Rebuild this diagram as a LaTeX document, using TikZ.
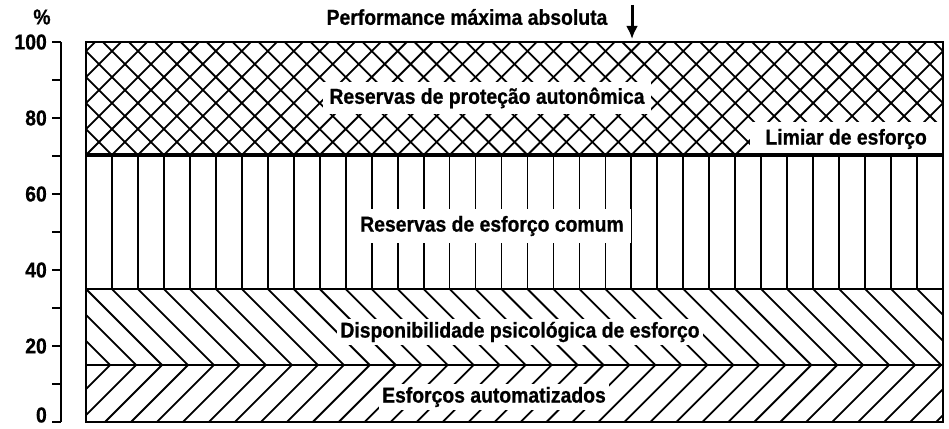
\documentclass[tikz,border=0pt]{standalone}
\usepackage{fontspec}
\setmainfont{Liberation Sans}[BoldFeatures={FakeStretch=0.9, FakeBold=0.8}]
\usetikzlibrary{arrows.meta, positioning}

\tikzset{
  hatch/.style={line width=1.8pt},
  band/.style={font=\bfseries\fontsize{21.5}{24}\selectfont, fill=white, inner sep=3pt},
  ylbl/.style={font=\bfseries\fontsize{21.5}{24}\selectfont, anchor=east, inner sep=0pt},
}

\begin{document}
\begin{tikzpicture}[x=1pt, y=-1pt]
\useasboundingbox (0,0) rectangle (949,428);
\pgfmathsetmacro{\colw}{857/33}

% crosshatch, 70--100
\begin{scope}
\clip (86,42) rectangle (943,155);
\foreach \k in {-5,...,38} {
  \draw[hatch] ({86+\k*\colw},155) -- ++(113,-113);
  \draw[hatch] ({86+\k*\colw},155) -- ++(-113,-113);
}
\end{scope}

% vertical lines, 35--70
\foreach \k in {1,...,32}
  \draw[hatch] ({86+\k*\colw},155) -- ({86+\k*\colw},289);

% chevrons, 0--35
\begin{scope}
\clip (86,289) rectangle (943,365);
\foreach \k in {-4,...,33}
  \draw[hatch] ({86+\k*\colw},289) -- ++(76,76);
\end{scope}
\begin{scope}
\clip (86,365) rectangle (943,422);
\foreach \k in {-4,...,33}
  \draw[hatch] ({86+\k*\colw+76},365) -- ++(-57,57);
\end{scope}

% band labels
\node[band, inner sep=6pt] (Protecao) at (487,98) {Reservas de proteção autonômica};
\node[band, inner xsep=16pt, inner ysep=7pt, anchor=east] (Limiar) at (943,139) {Limiar de esforço};
\node[band, inner sep=7pt] (Comum) at (492,226) {Reservas de esforço comum};
\node[band] (Disponib) at (520,332) {Disponibilidade psicológica de esforço};
\node[band] (Automat) at (494,397) {Esforços automatizados};

% frame and band limits
\draw[line width=1.8pt] (86,42) rectangle (943,422);
\draw[line width=3.5pt] (86,155) -- (943,155);
\draw[line width=2.2pt] (86,289) -- (943,289);
\draw[line width=1.8pt] (86,365) -- (943,365);

% axis
\draw[line width=1.8pt] (61,42) -- (61,422);
\foreach \p in {0,10,...,100}
  \draw[line width=1.3pt] (52,{422-3.8*\p}) -- (61,{422-3.8*\p});
\foreach \p in {20,40,...,100}
  \node[ylbl] (y\p) at (47,{422-3.8*\p}) {\p};
\node[ylbl] (y0) at (47,415) {0};
\node[ylbl, anchor=center] (pct) at (42,17) {\%};

% top label and arrow
\node[ylbl, anchor=center] (PerfMax) at (467,17) {Performance máxima absoluta};
\coordinate (ArrTop) at (632,5);
\coordinate (ArrTip) at (632,39);
\draw[-{Latex[length=13pt,width=12pt]}, line width=3pt] (ArrTop) -- (ArrTip);
\end{tikzpicture}
\end{document}
